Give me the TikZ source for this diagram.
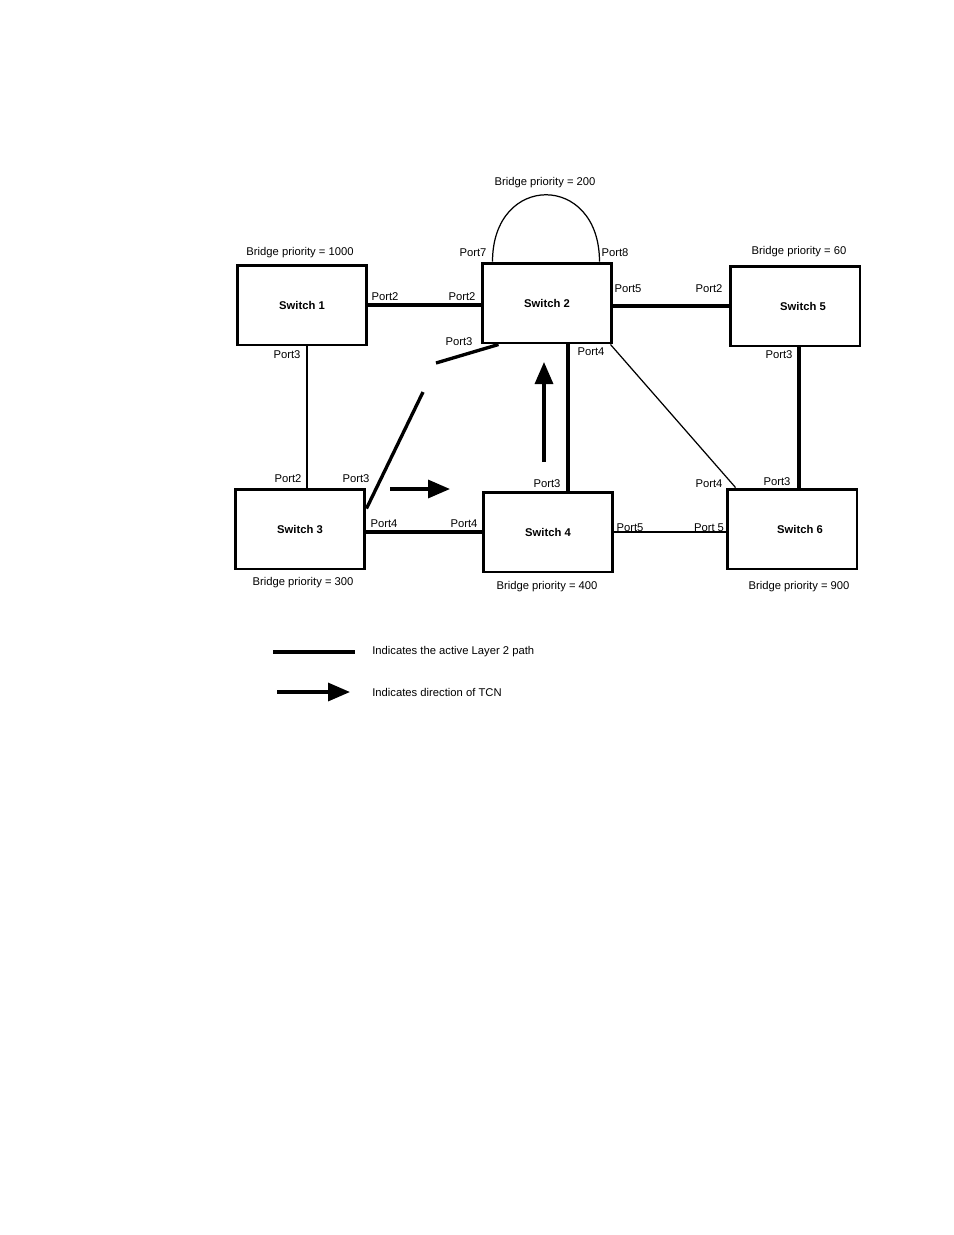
\documentclass[tikz,border=0pt]{standalone}
\usepackage{fontspec}
\setmainfont{Liberation Sans}
\usetikzlibrary{arrows.meta,calc}

\begin{document}
\begin{tikzpicture}[x=0.02cm, y=-0.02cm,
    switch/.style = {rectangle, draw, line width=1.7pt, minimum width=2.6cm, minimum height=1.6cm, inner sep=0, font=\fontsize{6.4}{8}\selectfont\bfseries},
    port/.style = {inner sep=0, font=\fontsize{6.4}{8}\selectfont},
    active/.style = {draw, line width=1.9pt},
    link/.style = {draw, line width=0.7pt},
    tcn/.style = {draw, line width=1.9pt, -{Triangle[length=0.44cm, width=0.36cm]}}
]
    \useasboundingbox (0,0) rectangle (954,1235);

    % switches
    \node[switch] (s1) at (302,305) {Switch 1};
    \node[switch] (s2) at (547,303) {Switch 2};
    \node[switch] (s5) at (795,306) {\hspace*{0.32cm}Switch 5};
    \node[switch] (s3) at (300,529) {Switch 3};
    \node[switch] (s4) at (548,532) {Switch 4};
    \node[switch] (s6) at (792,529) {\hspace*{0.32cm}Switch 6};

    % bridge priorities
    \node[port] (bp1) at (300,253) {Bridge priority = 1000};
    \node[port] (bp2) at (545,183) {Bridge priority = 200};
    \node[port] (bp5) at (799,252) {Bridge priority = 60};
    \node[port] (bp3) at (303,583) {Bridge priority = 300};
    \node[port] (bp4) at (547,587) {Bridge priority = 400};
    \node[port] (bp6) at (799,587) {Bridge priority = 900};

    % links
    \coordinate (s1p3) at ($(s1.south)+(5,0)$);
    \coordinate (s2p4) at ($(s2.south)+(21,0)$);
    \coordinate (s5p3) at ($(s5.south)+(4,0)$);
    \coordinate (cut1) at (436,363);
    \coordinate (cut2) at (423,392);
    \path[active] (s1.east) -- (s1.east -| s2.west);
    \path[active] (s5.west -| s2.east) -- (s5.west);
    \path[active] (s4.west -| s3.east) -- (s4.west);
    \path[link] (s4.east) -- (s4.east -| s6.west);
    \path[link] (s1p3) -- (s1p3 |- s3.north);
    \path[active] (s2p4) -- (s2p4 |- s4.north);
    \path[active] (s5p3) -- (s5p3 |- s6.north);
    \path[link] ($(s2.south east)+(-3,0)$) -- ($(s6.north west)+(10,0)$);
    \path[link] ($(s2.north west)+(12,0)$) .. controls +(0,-89) and +(0,-89) .. ($(s2.north east)+(-14,0)$);
    \path[active] ($(s2.south west)+(18,0)$) -- (cut1);
    \path[active] (cut2) -- ($(s3.north east)+(0,21)$);

    % TCN
    \coordinate (up0) at (544,462);
    \coordinate (up1) at (544,362);
    \coordinate (rt0) at (390,489);
    \coordinate (rt1) at (450,489);
    \path[tcn] (up0) -- (up1);
    \path[tcn] (rt0) -- (rt1);

    % ports
    \node[port] (l2p7) at (473,253) {Port7};
    \node[port] (l2p8) at (615,253) {Port8};
    \node[port] (l1p2) at (385,297) {Port2};
    \node[port] (l2p2) at (462,297) {Port2};
    \node[port] (l1p3) at (287,355) {Port3};
    \node[port] (l2p3) at (459,342) {Port3};
    \node[port] (l2p4) at (591,352) {Port4};
    \node[port] (l2p5) at (628,289) {Port5};
    \node[port] (l5p2) at (709,289) {Port2};
    \node[port] (l5p3) at (779,355) {Port3};
    \node[port] (l3p2) at (288,479) {Port2};
    \node[port] (l3p3) at (356,479) {Port3};
    \node[port] (l3p4) at (384,524) {Port4};
    \node[port] (l4p4) at (464,524) {Port4};
    \node[port] (l4p3) at (547,484) {Port3};
    \node[port] (l6p4) at (709,484) {Port4};
    \node[port] (l6p3) at (777,482) {Port3};
    \node[port] (l4p5) at (630,528) {Port5};
    \node[port] (l6p5) at (709,528) {Port 5};

    % legend
    \coordinate (lg1a) at (273,652);
    \coordinate (lg1b) at (355,652);
    \coordinate (lg2a) at (277,692);
    \coordinate (lg2b) at (350,692);
    \path[active] (lg1a) -- (lg1b);
    \path[tcn] (lg2a) -- (lg2b);
    \node[port, anchor=west] (lgt1) at (372,652) {Indicates the active Layer 2 path};
    \node[port, anchor=west] (lgt2) at (372,692) {Indicates direction of TCN};
\end{tikzpicture}
\end{document}
